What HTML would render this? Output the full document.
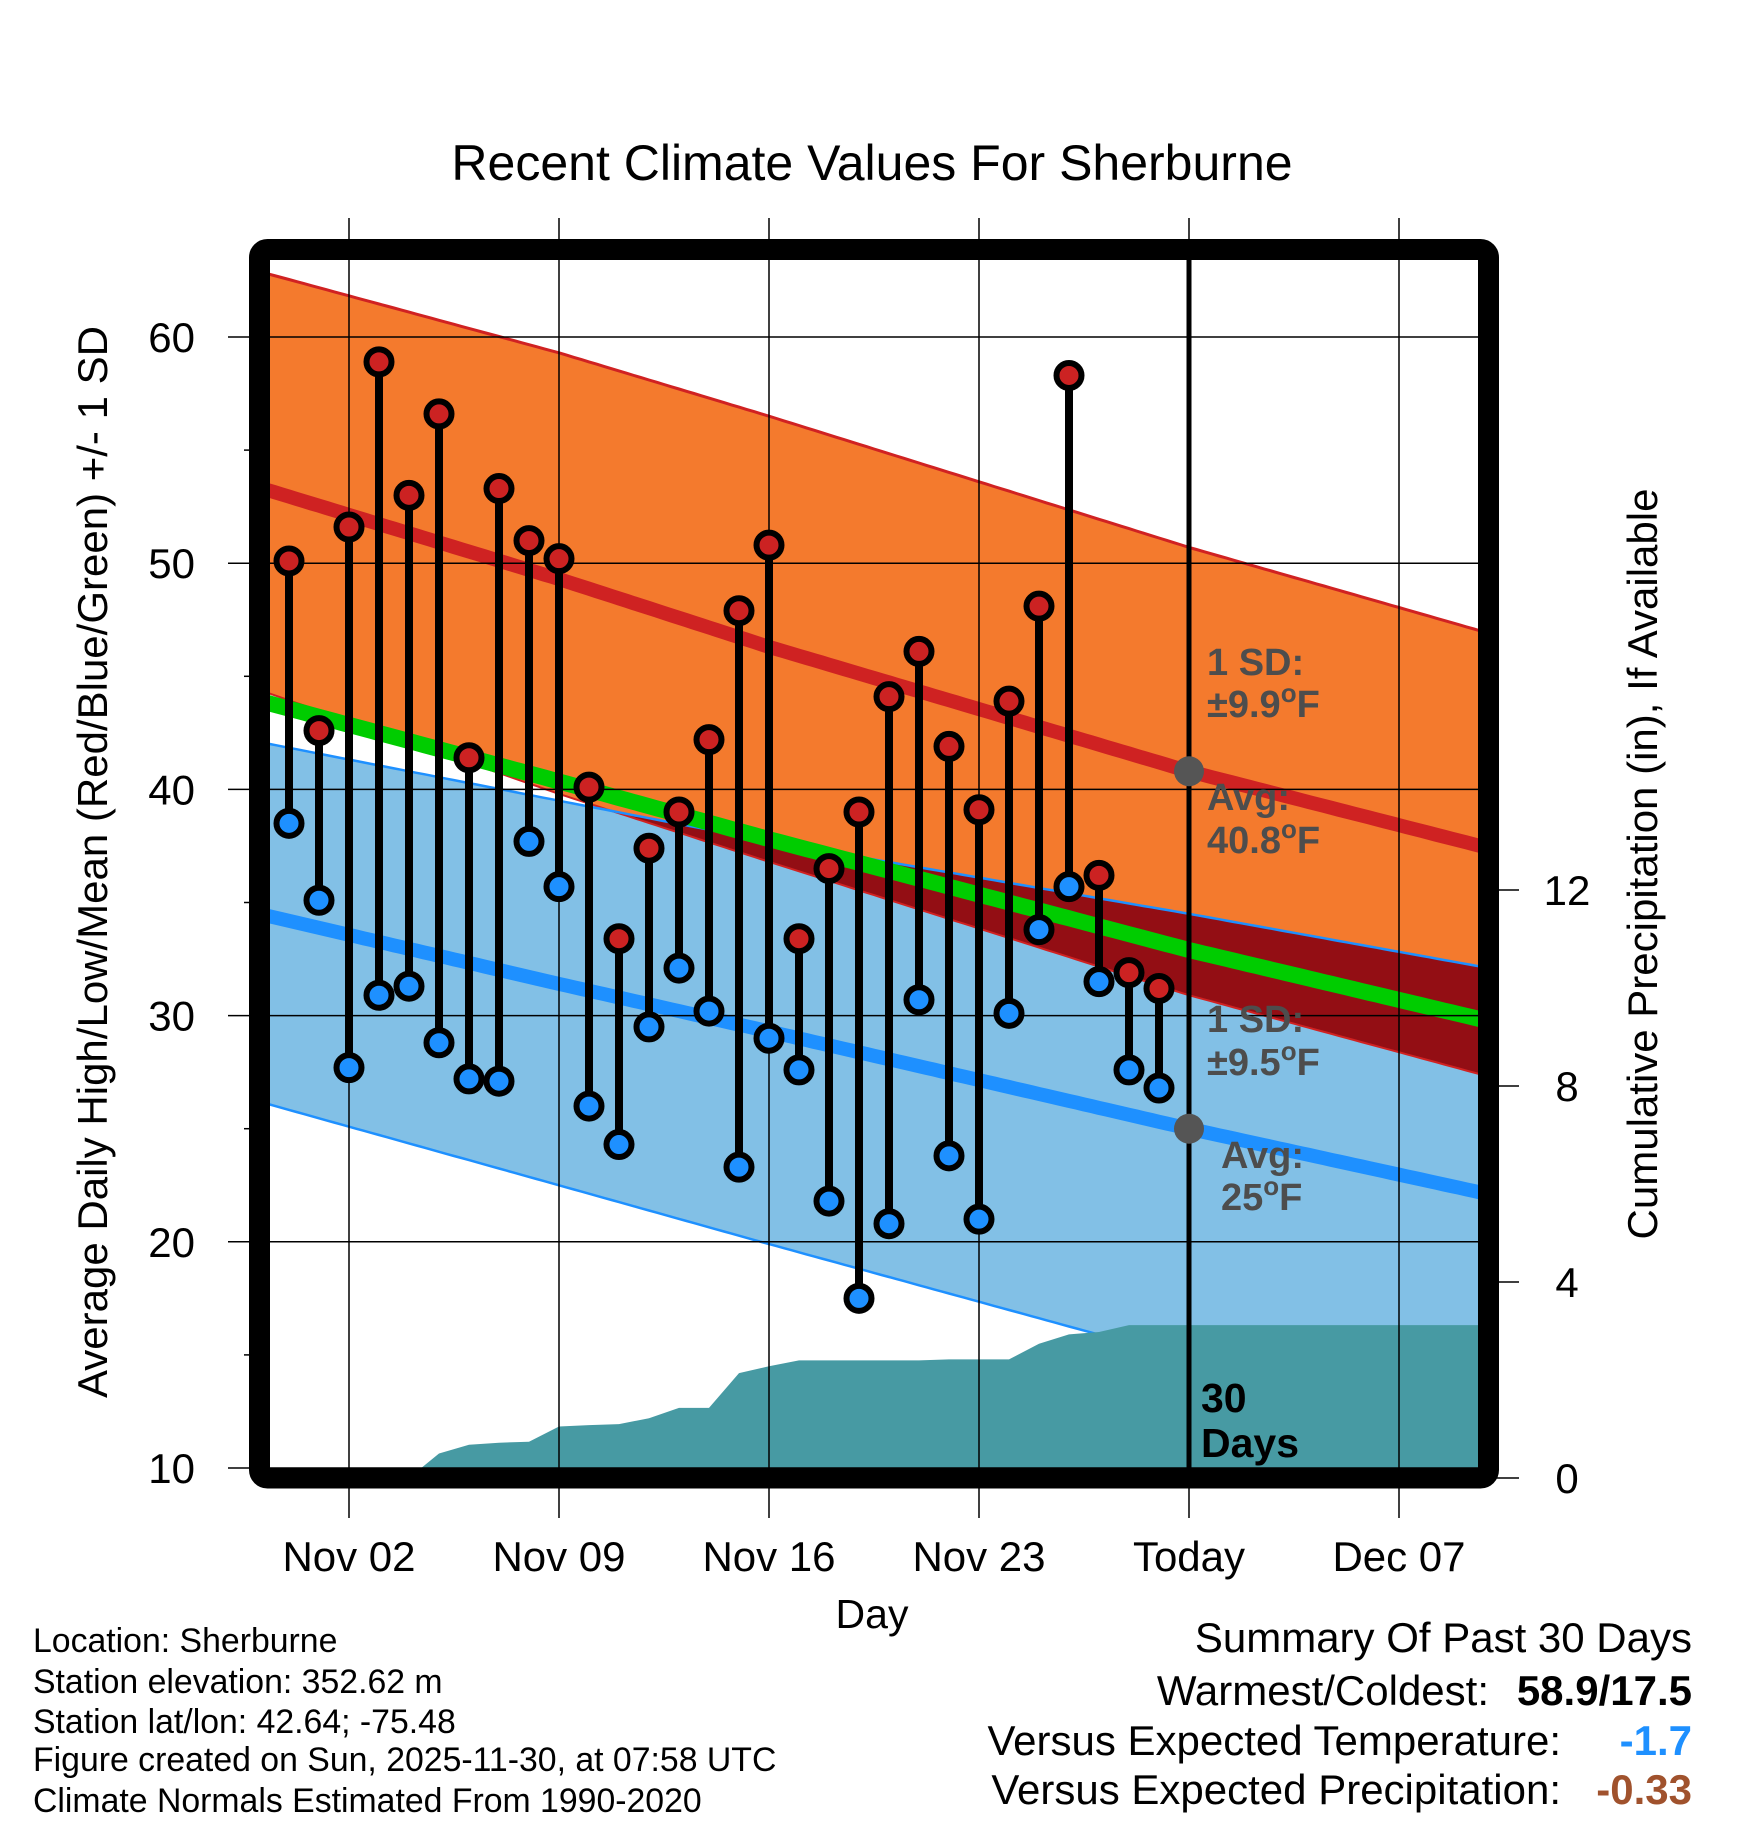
<!DOCTYPE html>
<html><head><meta charset="utf-8"><style>
html,body{margin:0;padding:0;background:#fff}
svg{display:block;font-family:"Liberation Sans",sans-serif}
</style></head><body>
<svg id="chart" width="1748" height="1828" viewBox="0 0 1748 1828" xmlns="http://www.w3.org/2000/svg">
<defs><clipPath id="plotclip"><rect x="270" y="260" width="1208" height="1208"/></clipPath></defs>
<text x="872" y="180" font-size="50" text-anchor="middle">Recent Climate Values For Sherburne</text>
<g id="bands" clip-path="url(#plotclip)"></g>
<g id="grid"></g>
<g id="marks"></g>
<g id="labels"></g>
<rect x="259.5" y="249.5" width="1229" height="1228.5" rx="8" fill="none" stroke="#000" stroke-width="21"/>
<text x="872" y="1628" font-size="41" text-anchor="middle">Day</text>
<text transform="translate(107,862) rotate(-90)" font-size="42" text-anchor="middle">Average Daily High/Low/Mean (Red/Blue/Green) +/- 1 SD</text>
<text transform="translate(1657,864) rotate(-90)" font-size="42" text-anchor="middle">Cumulative Precipitation (in), If Available</text>
<g font-size="33.8">
<text x="33" y="1652">Location: Sherburne</text>
<text x="33" y="1693">Station elevation: 352.62 m</text>
<text x="33" y="1733">Station lat/lon: 42.64; -75.48</text>
<text x="33" y="1771">Figure created on Sun, 2025-11-30, at 07:58 UTC</text>
<text x="33" y="1812">Climate Normals Estimated From 1990-2020</text>
</g>
<g font-size="42">
<text x="1692" y="1652" text-anchor="end">Summary Of Past 30 Days</text>
<text x="1489" y="1705" text-anchor="end">Warmest/Coldest:</text>
<text x="1692" y="1705" text-anchor="end" font-weight="bold">58.9/17.5</text>
<text x="1561" y="1755" text-anchor="end">Versus Expected Temperature:</text>
<text x="1692" y="1755" text-anchor="end" font-weight="bold" fill="#1e90ff">-1.7</text>
<text x="1561" y="1804" text-anchor="end">Versus Expected Precipitation:</text>
<text x="1692" y="1804" text-anchor="end" font-weight="bold" fill="#a0522d">-0.33</text>
</g>
</svg>
<script>
const normDays = [-1, 9, 16, 30, 40];
const normHigh = [53.35, 49.3, 46.3, 40.8, 37.4];
const highUpper = [62.9, 59.3, 56.5, 50.7, 46.9];
const highLower = [44.4, 39.8, 36.8, 30.9, 27.3];
const normLow = [34.5, 31.4, 29.3, 25.0, 22.1];
const lowUpper = [42.1, 39.5, 37.7, 34.5, 32.1];
const lowLower = [26.2, 22.5, 19.9, 14.8, 11.1];
const highs = [50.1,42.6,51.6,58.9,53.0,56.6,41.4,53.3,51.0,50.2,40.1,33.4,37.4,39.0,42.2,47.9,50.8,33.4,36.5,39.0,44.1,46.1,41.9,39.1,43.9,48.1,58.3,36.2,31.9,31.2];
const lows = [38.5,35.1,27.7,30.9,31.3,28.8,27.2,27.1,37.7,35.7,26.0,24.3,29.5,32.1,30.2,23.3,29.0,27.6,21.8,17.5,20.8,30.7,23.8,21.0,30.1,33.8,35.7,31.5,27.6,26.8];
const precip = [0,0,0,0,0,0.5,0.68,0.72,0.74,1.05,1.08,1.1,1.22,1.43,1.43,2.14,2.28,2.4,2.4,2.4,2.4,2.4,2.42,2.42,2.42,2.74,2.93,2.98,3.12,3.12];
const xTickDays = [2, 9, 16, 23, 30, 37];
const xTickLabels = ["Nov 02", "Nov 09", "Nov 16", "Nov 23", "Today", "Dec 07"];
const yTicks = [10, 20, 30, 40, 50, 60];
const y2Ticks = [0, 4, 8, 12];
const todayIdx = 30;

const NS = "http://www.w3.org/2000/svg";
const xS = i => 289 + 30 * i;
const yT = t => 1468 - (t - 10) * 22.62;
const yP = p => 1478 - p * 49;
function interp(arr, d) {
  for (let k = 0; k < normDays.length - 1; k++) {
    if (d <= normDays[k + 1] || k === normDays.length - 2) {
      const f = (d - normDays[k]) / (normDays[k + 1] - normDays[k]);
      return arr[k] + f * (arr[k + 1] - arr[k]);
    }
  }
}
function mk(tag, attrs, parent) {
  const el = document.createElementNS(NS, tag);
  for (const k in attrs) el.setAttribute(k, attrs[k]);
  parent.appendChild(el);
  return el;
}
const bandsG = document.getElementById('bands');
const gridG = document.getElementById('grid');
const marksG = document.getElementById('marks');
const labelsG = document.getElementById('labels');
const samples = [];
for (let d = -1; d <= 40.001; d += 0.25) samples.push(d);
function line(arr) { return samples.map(d => xS(d).toFixed(1) + ',' + yT(interp(arr, d)).toFixed(1)).join(' '); }
function band(a, b) {
  return samples.map(d => xS(d).toFixed(1) + ',' + yT(interp(a, d)).toFixed(1)).join(' ') + ' ' +
    samples.slice().reverse().map(d => xS(d).toFixed(1) + ',' + yT(interp(b, d)).toFixed(1)).join(' ');
}
let el;
el = mk('polygon', {points: band(highUpper, highLower), fill: '#f47a2d'}, bandsG);


el = mk('polygon', {points: band(lowUpper, lowLower), fill: '#82c0e6'}, bandsG);


const ovTop = samples.map(d => { const a = interp(lowUpper, d), b = interp(highLower, d); return xS(d).toFixed(1) + ',' + yT(Math.max(a, b)).toFixed(1); });
const ovBot = samples.slice().reverse().map(d => xS(d).toFixed(1) + ',' + yT(interp(highLower, d)).toFixed(1));
el = mk('polygon', {points: ovTop.join(' ') + ' ' + ovBot.join(' '), fill: '#930e14'}, bandsG);


[[highUpper, '#d02222', 3, 'high-upper-line'], [highLower, '#d02222', 2, 'high-lower-line'], [lowUpper, '#1e90ff', 2.5, 'low-upper-line'], [lowLower, '#1e90ff', 2.5, 'low-lower-line'], [normHigh, '#cf2222', 14, 'avg-high-line'], [normLow, '#1e90ff', 14, 'avg-low-line']].forEach(s => {
  const ln = mk('polyline', {points: line(s[0]), fill: 'none', stroke: s[1], 'stroke-width': s[2]}, bandsG);
  
  
});
const meanArr = normHigh.map((h, k) => (h + normLow[k]) / 2);
el = mk('polyline', {points: line(meanArr), fill: 'none', stroke: '#00cc00', 'stroke-width': 16}, bandsG);


let pp = '270,1480 270,' + yP(precip[0]).toFixed(1);
precip.forEach((p, i) => { pp += ' ' + xS(i).toFixed(1) + ',' + yP(p).toFixed(1); });
pp += ' 1480,' + yP(precip[precip.length - 1]).toFixed(1) + ' 1480,1480';
el = mk('polygon', {points: pp, fill: '#479aa3'}, bandsG);


xTickDays.forEach((d, k) => {
  const g = mk('line', {x1: xS(d), x2: xS(d), y1: 218, y2: 1518, stroke: '#000', 'stroke-width': 1.5}, gridG);
  
  
  const t = mk('text', {x: xS(d), y: 1571, 'font-size': 42, 'text-anchor': 'middle'}, labelsG);
  t.textContent = xTickLabels[k];
  
  
});
yTicks.forEach(v => {
  const g = mk('line', {x1: 228, x2: 1478, y1: yT(v), y2: yT(v), stroke: '#000', 'stroke-width': 1.5}, gridG);
  
  
  const t = mk('text', {x: 195, y: yT(v) + 15, 'font-size': 42, 'text-anchor': 'end'}, labelsG);
  t.textContent = v;
  
  
});
for (let v = 15; v <= 55; v += 10) {
  const g = mk('line', {x1: 244, x2: 260, y1: yT(v), y2: yT(v), stroke: '#000', 'stroke-width': 1.5}, gridG);
  
  
}
y2Ticks.forEach(v => {
  const g = mk('line', {x1: 1490, x2: 1519, y1: yP(v), y2: yP(v), stroke: '#000', 'stroke-width': 1.5}, gridG);
  
  
  const t = mk('text', {x: 1567, y: yP(v) + 15, 'font-size': 42, 'text-anchor': 'middle'}, labelsG);
  t.textContent = v;
  
  
});
el = mk('line', {x1: xS(todayIdx), x2: xS(todayIdx), y1: 255, y2: 1470, stroke: '#000', 'stroke-width': 5}, gridG);


highs.forEach((h, i) => {
  const st = mk('line', {x1: xS(i), x2: xS(i), y1: yT(h), y2: yT(lows[i]), stroke: '#000', 'stroke-width': 8}, marksG);
  
  
});
highs.forEach((h, i) => {
  const c1 = mk('circle', {cx: xS(i), cy: yT(h), r: 12.5, fill: '#cc2222', stroke: '#000', 'stroke-width': 6}, marksG);
  
  
  const c2 = mk('circle', {cx: xS(i), cy: yT(lows[i]), r: 12.5, fill: '#1e90ff', stroke: '#000', 'stroke-width': 6}, marksG);
  
  
});
const tH = interp(normHigh, todayIdx), tL = interp(normLow, todayIdx);
el = mk('circle', {cx: xS(todayIdx), cy: yT(tH), r: 15, fill: '#555'}, marksG);


el = mk('circle', {cx: xS(todayIdx), cy: yT(tL), r: 15, fill: '#555'}, marksG);


function annot(x, y, txt, name, color, size) {
  const t = mk('text', {x: x, y: y, 'font-size': size || 38, 'font-weight': 'bold', fill: color || '#4d4d4d'}, labelsG);
  t.innerHTML = txt;
  
  
}
annot(1207, 675, '1 SD:', 'high-sd-label');
annot(1207, 717, '±9.9<tspan dy="-15" font-size="26">o</tspan><tspan dy="15">F</tspan>', 'high-sd-value');
annot(1207, 810, 'Avg:', 'high-avg-label');
annot(1207, 853, '40.8<tspan dy="-15" font-size="26">o</tspan><tspan dy="15">F</tspan>', 'high-avg-value');
annot(1207, 1032, '1 SD:', 'low-sd-label');
annot(1207, 1075, '±9.5<tspan dy="-15" font-size="26">o</tspan><tspan dy="15">F</tspan>', 'low-sd-value');
annot(1221, 1168, 'Avg:', 'low-avg-label');
annot(1221, 1210, '25<tspan dy="-15" font-size="26">o</tspan><tspan dy="15">F</tspan>', 'low-avg-value');
annot(1201, 1412, '30', 'window-days-count', '#000', 41);
annot(1201, 1457, 'Days', 'window-days-label', '#000', 41);
</script>
</body></html>
